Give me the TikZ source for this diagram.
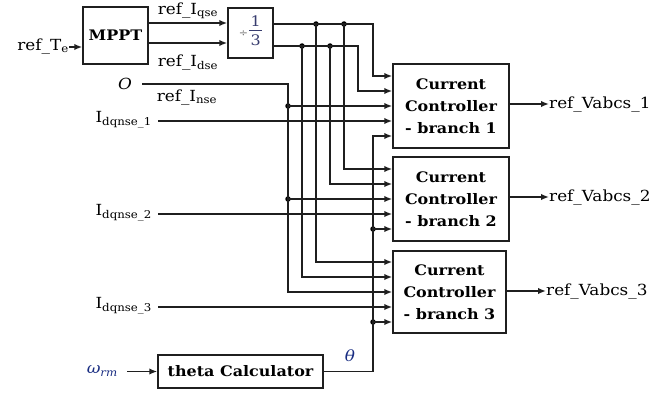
\documentclass[tikz,border=0pt]{standalone}
\usepackage{fontspec}
\setmainfont{DejaVu Serif}[FakeStretch=1.1]
\usetikzlibrary{arrows.meta,calc}
\definecolor{symblue}{RGB}{25,45,130}
\definecolor{fracink}{RGB}{55,60,110}
\begin{document}
\begin{tikzpicture}[x=1pt,y=-1pt,
  wire/.style={draw=black!88, line width=1.6pt},
  sig/.style={wire,-{Latex[length=8pt,width=6.5pt]}},
  blockbox/.style={draw=black!88, line width=1.5pt, inner sep=0pt, align=center,
    font=\fontsize{14.5}{22}\selectfont\bfseries},
  lbl/.style={font=\fontsize{15.3}{17}\selectfont, inner sep=0pt},
  jdot/.style={circle, fill=black, inner sep=0pt, minimum size=5.5pt}]
\useasboundingbox (0,0) rectangle (655,396);

% blocks
\node[blockbox, minimum width=65pt, minimum height=57pt] (mppt) at (115.5,35.5) {MPPT};
\node[blockbox, minimum width=45pt, minimum height=50pt, font=\fontsize{14.5}{15}\selectfont] (div) at (250.5,33)
  {{\color{black!60}\fontsize{10}{10}\selectfont ÷}\hspace{1pt}%
   {\color{fracink}\setlength{\arrayrulewidth}{0.8pt}%
    \begin{tabular}[c]{@{}c@{}}\rule{1.5pt}{0pt}1\rule{1.5pt}{0pt}\\[-1pt]\hline\rule{0pt}{15pt}3\end{tabular}}};
\node[blockbox, minimum width=116pt, minimum height=84pt] (cc1) at (451,106) {Current\\Controller\\- branch 1};
\node[blockbox, minimum width=116pt, minimum height=84pt] (cc2) at (451,199) {Current\\Controller\\- branch 2};
\node[blockbox, minimum width=113pt, minimum height=82pt] (cc3) at (449.5,292) {Current\\Controller\\- branch 3};
\node[blockbox, minimum width=165pt, minimum height=33pt] (theta) at (240.5,371.5) {theta Calculator};

% input labels
\node[lbl, anchor=east] (refte) at (69,46) {ref\_T\textsubscript{e}};
\node[lbl] (iqse) at (188,11) {ref\_I\textsubscript{qse}};
\node[lbl] (idse) at (188,62) {ref\_I\textsubscript{dse}};
\node[lbl, anchor=east] (zero) at (132,84) {\textit{O}};
\node[lbl] (inse) at (187,97) {ref\_I\textsubscript{nse}};
\node[lbl, anchor=east] (idq1) at (152,120) {I\textsubscript{dqnse\_1}};
\node[lbl, anchor=east] (idq2) at (152,213) {I\textsubscript{dqnse\_2}};
\node[lbl, anchor=east] (idq3) at (152,306) {I\textsubscript{dqnse\_3}};
\node[lbl, anchor=east, text=symblue] (omega) at (118,371) {\textit{ω}\textsubscript{\textit{rm}}};
\node[lbl, text=symblue] (thlbl) at (350,356) {\textit{θ}};

% output labels
\node[lbl, anchor=west] (out1) at (549,104) {ref\_Vabcs\_1};
\node[lbl, anchor=west] (out2) at (549,197) {ref\_Vabcs\_2};
\node[lbl, anchor=west] (out3) at (546,291) {ref\_Vabcs\_3};

% input points on the controller blocks
\foreach \b in {1,2,3}{
  \coordinate (c\b a) at ($(cc\b.west)+(0,-30)$);
  \coordinate (c\b b) at ($(cc\b.west)+(0,-15)$);
  \coordinate (c\b c) at ($(cc\b.west)+(0,0)$);
  \coordinate (c\b d) at ($(cc\b.west)+(0,15)$);
  \coordinate (c\b e) at ($(cc\b.west)+(0,30)$);
}
\coordinate (qin) at (0,23);
\coordinate (din) at (0,43);
\coordinate (qo) at (div.east |- 0,24);
\coordinate (do) at (div.east |- 0,46);

% junction dots
\node[jdot] (jq2) at (344,24) {};
\node[jdot] (jq3) at (316,24) {};
\node[jdot] (jd2) at (330,46) {};
\node[jdot] (jd3) at (302,46) {};
\node[jdot] (jn1) at (288,106) {};
\node[jdot] (jn2) at (288,199) {};
\node[jdot] (jt2) at (373,229) {};
\node[jdot] (jt3) at (373,322) {};

% MPPT and gain
\draw[sig] (refte.east |- 0,47) -- (mppt.west |- 0,47);
\draw[sig] (mppt.east |- qin) -- (div.west |- qin);
\draw[sig] (mppt.east |- din) -- (div.west |- din);

% q-axis reference bus
\draw[sig] (qo) -- (373,24) |- (c1a);
\draw[sig] (jq2.center) |- (c2a);
\draw[sig] (jq3.center) |- (c3a);
% d-axis reference bus
\draw[sig] (do) -- (358,46) |- (c1b);
\draw[sig] (jd2.center) |- (c2b);
\draw[sig] (jd3.center) |- (c3b);
% n-axis reference bus
\draw[sig] (142,84) -- (288,84) |- (c3c);
\draw[sig] (jn1.center) -- (c1c);
\draw[sig] (jn2.center) -- (c2c);
% measured currents
\draw[sig] ([xshift=6pt]idq1.east |- c1d) -- (c1d);
\draw[sig] ([xshift=6pt]idq2.east |- c2d) -- (c2d);
\draw[sig] ([xshift=6pt]idq3.east |- c3d) -- (c3d);
% angle
\draw[sig] ([xshift=9pt]omega.east |- theta.west) -- (theta.west);
\draw[sig] (theta.east) -- (373,371.5) |- (c1e);
\draw[sig] (jt2.center) -- (c2e);
\draw[sig] (jt3.center) -- (c3e);

% outputs
\draw[sig] (cc1.east |- out1.west) -- (out1.west);
\draw[sig] (cc2.east |- out2.west) -- (out2.west);
\draw[sig] (cc3.east |- out3.west) -- (out3.west);
\end{tikzpicture}
\end{document}
